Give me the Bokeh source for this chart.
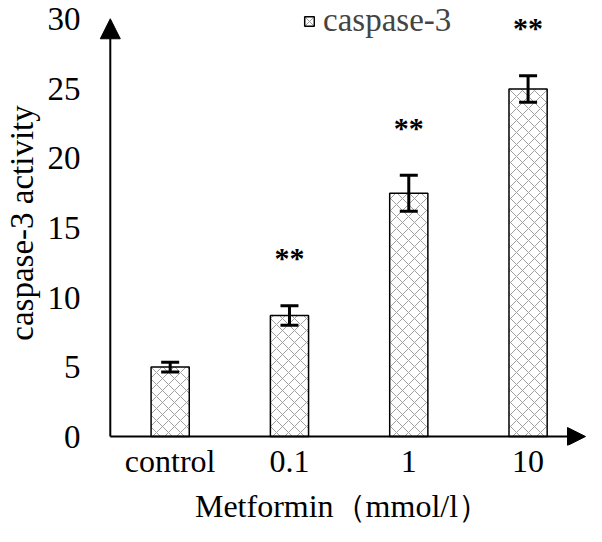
from bokeh.plotting import figure
from bokeh.models import (ColumnDataSource, Whisker, TeeHead, Arrow, NormalHead,
                          FixedTicker, Range1d, Legend, LegendItem)
from bokeh.core.properties import value
from bokeh.embed import file_html
from bokeh.resources import INLINE

categories = ["control", "0.1", "1", "10"]
means = [5.0, 8.7, 17.5, 25.0]
errors = [0.35, 0.7, 1.3, 0.95]
marks = ["", "**", "**", "**"]
y_ticks = [0, 5, 10, 15, 20, 25, 30]
series_name = "caspase-3"
x_title = "Metformin（mmol/l）"
y_title = "caspase-3 activity"

FONT = "Liberation Serif"
xs = list(range(1, len(categories) + 1))
# frame range (slightly larger than the arrowed axes so heads are not clipped)
fx0, fx1 = 0.3992, 4.4897
fy0, fy1 = -0.646, 31.364
# axis positions
ax_x0, ax_x1 = 0.498, 4.4815
ax_y0, ax_y1 = 0.0, 30.05

src = ColumnDataSource(dict(
    x=xs, top=means,
    upper=[m + e for m, e in zip(means, errors)],
    lower=[m - e for m, e in zip(means, errors)],
    mark=marks,
))

p = figure(width=586, height=526, output_backend="svg", toolbar_location=None,
           x_range=Range1d(fx0, fx1), y_range=Range1d(fy0, fy1),
           min_border_left=89, min_border_right=0, min_border_top=0,
           min_border_bottom=80)
p.outline_line_color = None
p.grid.visible = False
p.background_fill_color = "white"

bars = p.vbar(x="x", top="top", bottom=0, width=0.32, source=src,
              fill_color="white", line_color="black", line_width=1.5,
              hatch_pattern="x", hatch_color="#a0a0a0", hatch_scale=12,
              hatch_weight=1.0)

w = Whisker(base="x", upper="upper", lower="lower", source=src,
            line_width=3, line_color="black", level="overlay",
            upper_head=TeeHead(size=18, line_width=3, line_color="black"),
            lower_head=TeeHead(size=18, line_width=3, line_color="black"))
p.add_layout(w)

p.text(x="x", y="upper", text="mark", source=src, text_align="center",
       text_baseline="alphabetic", y_offset=-48, text_font=value(FONT),
       text_font_size="30px", text_font_style="bold", text_color="black")

# axes with arrow heads
p.add_layout(Arrow(end=NormalHead(size=18, fill_color="black", line_color="black"),
                   x_start=ax_x0, y_start=ax_y0, x_end=ax_x1, y_end=ax_y0,
                   line_width=2, line_color="black"))
p.add_layout(Arrow(end=NormalHead(size=20, fill_color="black", line_color="black"),
                   x_start=ax_x0, y_start=ax_y0, x_end=ax_x0, y_end=ax_y1,
                   line_width=2, line_color="black"))

for ax in (p.xaxis[0], p.yaxis[0]):
    ax.axis_line_color = None
    ax.major_tick_line_color = None
    ax.minor_tick_line_color = None
    ax.major_tick_out = 0
    ax.major_tick_in = 0
    ax.minor_tick_out = 0
    ax.minor_tick_in = 0
    ax.major_label_text_font = FONT
    ax.major_label_text_font_size = "33px"
    ax.major_label_text_color = "black"
    ax.axis_label_text_font = FONT
    ax.axis_label_text_font_size = "33px"
    ax.axis_label_text_font_style = "normal"
    ax.axis_label_text_color = "black"

p.xaxis.ticker = FixedTicker(ticks=xs)
p.xaxis.major_label_overrides = {x: c for x, c in zip(xs, categories)}
p.xaxis.major_label_text_font_size = "32px"
p.xaxis.major_label_standoff = -3
p.xaxis.axis_label = x_title
p.xaxis.axis_label_text_font_size = "32px"
p.xaxis.axis_label_standoff = 6

p.yaxis.ticker = FixedTicker(ticks=y_ticks)
p.yaxis.major_label_standoff = 18
p.yaxis.axis_label = y_title
p.yaxis.axis_label_standoff = 5

legend = Legend(items=[LegendItem(label=series_name, renderers=[bars])],
                location=(205, 406), orientation="horizontal",
                label_text_font=FONT, label_text_font_size="33px",
                glyph_width=12, glyph_height=12, label_standoff=8,
                background_fill_alpha=0, border_line_color=None, padding=0,
                margin=0)
p.add_layout(legend)

open("out.html", "w").write(file_html(p, INLINE))
